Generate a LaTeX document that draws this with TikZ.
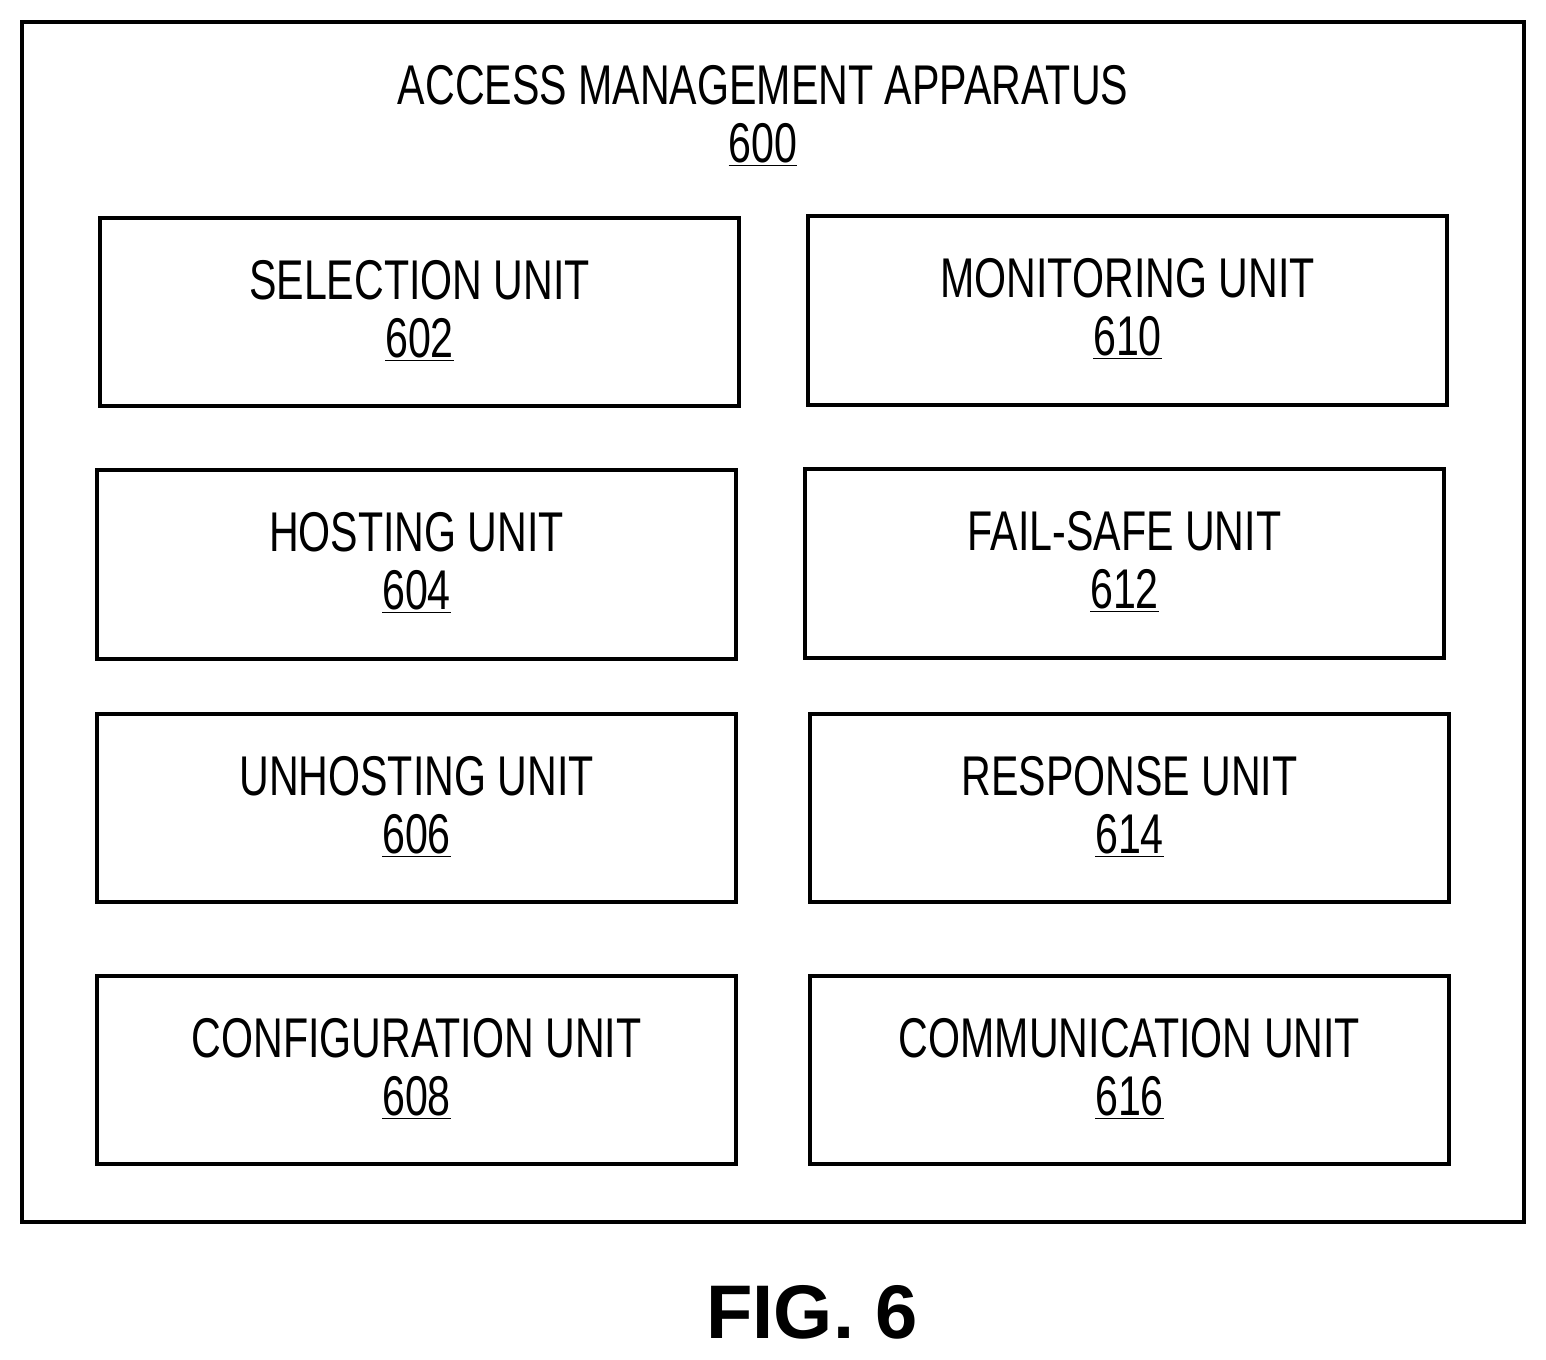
\documentclass[tikz,border=0pt]{standalone}
\usepackage{fontspec}
\setmainfont{Liberation Sans}
\newfontfamily\narrow[FakeStretch=0.735]{Liberation Sans}
\begin{document}
\begin{tikzpicture}[x=0.5pt,y=-0.5pt,
  unit/.style={draw,line width=2pt},
  lbl/.style={font=\narrow\fontsize{28}{30}\selectfont,align=center,inner sep=0pt}]
\useasboundingbox (0,0) rectangle (1546,1359);
\draw[unit] (22,22) rectangle (1524,1222);
\node[lbl] (t) at (763,85) {ACCESS MANAGEMENT APPARATUS};
\node[lbl] (n) at (763,145) {\underline{600}};
\foreach \x/\y/\X/\Y/\a/\b/\nm in {
 100/218/739/406/SELECTION UNIT/602/a,
 808/216/1447/405/MONITORING UNIT/610/b,
 97/470/736/659/HOSTING UNIT/604/c,
 805/469/1444/658/FAIL-SAFE UNIT/612/d,
 97/714/736/902/UNHOSTING UNIT/606/e,
 810/714/1449/902/RESPONSE UNIT/614/f,
 97/976/736/1164/CONFIGURATION UNIT/608/g,
 810/976/1449/1164/COMMUNICATION UNIT/616/h}{
 \draw[unit] (\x,\y) rectangle (\X,\Y);
 \node[lbl] (\nm1) at ({(\x+\X)/2},{\y+62}) {\a};
 \node[lbl] (\nm2) at ({(\x+\X)/2},{\y+122}) {\underline{\b}};
}
\node[font=\bfseries\fontsize{38}{40}\selectfont] (fig) at (812,1312) {FIG. 6};
\end{tikzpicture}
\end{document}
